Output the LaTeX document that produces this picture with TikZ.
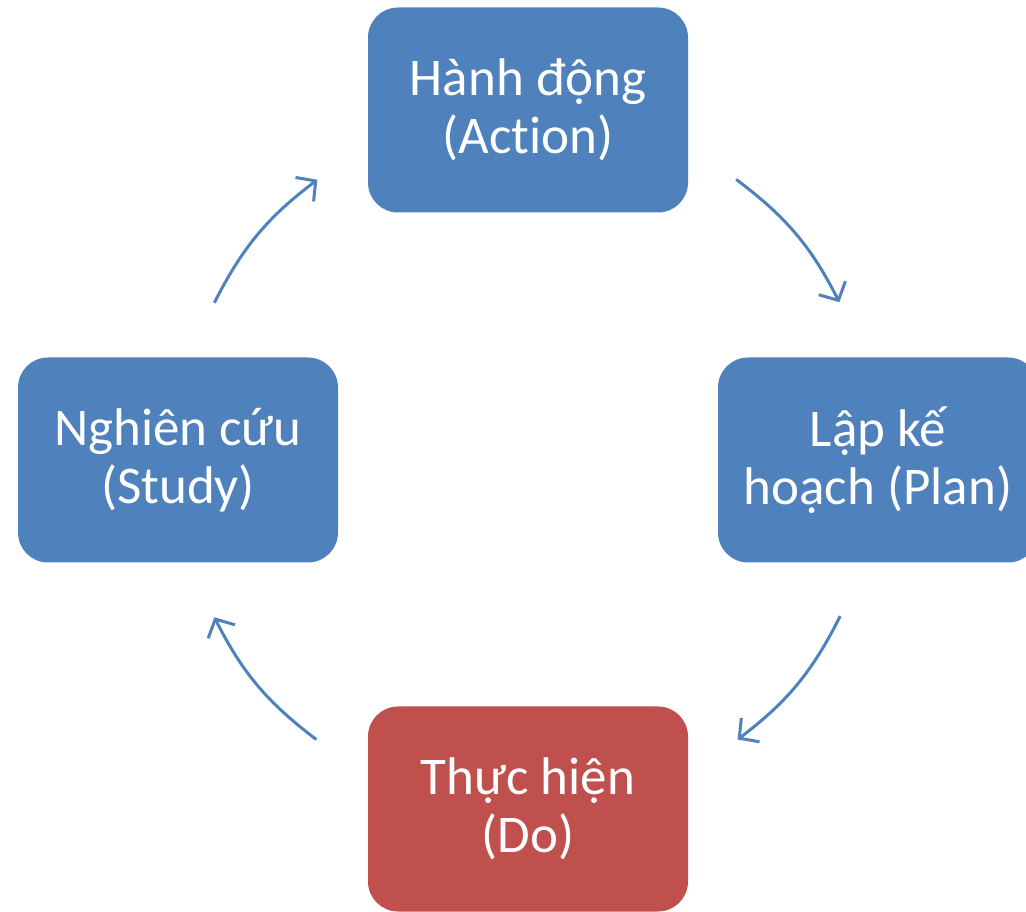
\documentclass[tikz,border=0pt]{standalone}
\usepackage{fontspec}
\setmainfont{Carlito}[Ligatures=NoCommon]
\usetikzlibrary{arrows.meta,calc}
\definecolor{pdcablue}{HTML}{4F81BD}
\definecolor{pdcared}{HTML}{C0504D}
\tikzset{
  stagebox/.style={fill=pdcablue, rounded corners=30pt, minimum width=320pt,
    minimum height=205pt, text=white, align=center, inner sep=0pt,
    font=\fontsize{53}{58}\selectfont},
  cyclearrow/.style={draw=pdcablue, line width=3pt,
    -{Straight Barb[length=14pt, width=30pt, line width=3pt]}}
}
\begin{document}
\begin{tikzpicture}[x=1pt, y=1pt]
    \useasboundingbox (0, 0) rectangle (1026, 911);
    \node [stagebox] (act) at (528, 801) {Hành động\\(Action)};
    \node [stagebox] (plan) at (878, 451) {Lập kế\\hoạch (Plan)};
    \node [stagebox, fill=pdcared] (do) at (528, 102) {Thực hiện\\(Do)};
    \node [stagebox] (study) at (178, 451) {Nghiên cứu\\(Study)};

    \coordinate (c) at (527, 451);
    \coordinate (a1) at ($(c) + (53.3:350)$);
    \coordinate (a2) at ($(c) + (26.8:350)$);
    \coordinate (b1) at ($(c) + (-26.5:350)$);
    \coordinate (b2) at ($(c) + (-53:350)$);
    \coordinate (d1) at ($(c) + (-127:350)$);
    \coordinate (d2) at ($(c) + (-153.3:350)$);
    \coordinate (e1) at ($(c) + (153.3:350)$);
    \coordinate (e2) at ($(c) + (126.8:350)$);

    \draw [cyclearrow] (a1) to[bend left=13] (a2);
    \draw [cyclearrow] (b1) to[bend left=13] (b2);
    \draw [cyclearrow] (d1) to[bend left=13] (d2);
    \draw [cyclearrow] (e1) to[bend left=13] (e2);
\end{tikzpicture}
\end{document}
